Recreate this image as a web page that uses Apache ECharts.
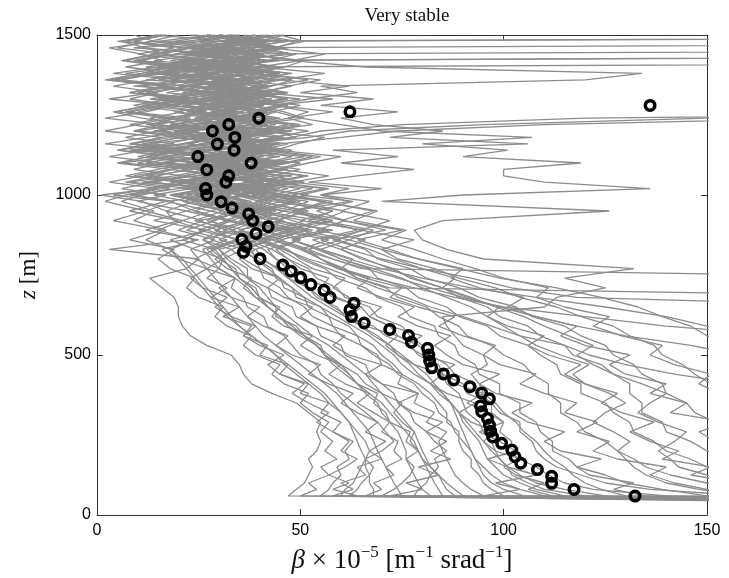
<!DOCTYPE html>
<html><head><meta charset="utf-8">
<script src="https://cdn.jsdelivr.net/npm/echarts@6/dist/echarts.min.js"></script>
<style>html,body{margin:0;padding:0;background:#fff}#c{width:729px;height:578px}</style>
</head><body><div id="c"></div>
<script>
// heights (m) at which each gray profile is sampled
const zLevels = [45,60,80,100,125,150,175,200, 230,260,290,320,350,380,410,440,470,500, 530,560,590,620,650,680,710,740,770,800, 830,860,890,920,950,980, 1000,1020,1040,1060,1080,1100,1120,1140,1160,1180,1200,1220,1240, 1260,1280,1300,1320,1340,1360,1380,1400,1420,1440,1460,1480,1500];

// backscatter profiles (beta x 1e-5), one value per zLevel
const p01 = [170,47,49,51,52,53,52,54, 55,54,55,52,49,43,38,36,35,33, 27,23,21,20,20,19,16,13,22,25, 3,22,26,19,17,11, 1,14,22,9,18,25,12,20,8,16,24,13,19, 7,15,23,10,18,4,14,21,9,17,12,6,15];
const p02 = [190,55,57,58,60,59,62,61, 63,58,60,55,57,50,52,45,47,40, 42,36,38,31,35,28,32,27,30,24, 29,21,27,33,24,18, 26,31,20,28,35,22,29,17,27,33,21,30,24, 32,19,28,36,23,30,16,27,34,22,29,25,31];
const p03 = [150,62,64,65,67,68,66,70, 73,71,69,66,63,60,58,55,54,50, 48,46,42,41,37,36,33,34,30,31, 36,28,32,25,38,30, 22,34,27,40,31,24,37,29,42,26,33,21,38, 28,41,25,35,30,44,27,37,22,33,39,26,35];
const p04 = [200,70,73,75,77,78,76,79, 76,77,72,71,68,69,64,62,60,56, 55,51,49,44,44,40,39,35,34,30, 27,34,29,37,31,24, 30,36,25,32,41,28,35,23,31,38,27,34,20, 29,36,26,43,31,24,38,30,21,35,28,42,33];
const p05 = [210,78,79,81,82,84,83,86, 83,81,78,77,74,73,70,67,66,61, 60,55,54,49,48,43,42,37,37,33, 30,39,33,28,36,26, 33,24,38,29,21,35,27,40,32,19,36,28,43, 24,33,39,27,20,34,45,29,37,23,31,40,27];
const p06 = [230,100,97,95,94,92,92,90, 89,89,86,86,84,82,79,75,73,70, 68,64,62,57,55,49,48,44,43,39, 38,35,41,32,37,29, 35,42,30,26,38,33,45,28,36,31,23,39,34, 42,30,26,37,33,46,28,24,36,41,30,35,27];
const p07 = [180,120,110,106,102,101,99,98, 97,95,94,91,90,89,86,85,83,79, 77,71,68,61,59,54,52,47,45,40, 37,42,35,45,33,38, 30,37,43,27,34,40,31,25,38,44,29,35,41, 33,27,40,36,31,45,26,38,34,29,43,32,37];
const p08 = [240,140,122,115,111,108,104,101, 102,99,100,97,97,94,93,88,86,82, 79,74,72,67,65,59,57,51,49,44, 41,36,44,39,34,42, 37,31,40,46,33,28,39,35,43,30,37,26,34, 40,31,36,28,43,35,39,27,33,46,30,38,24];
const p09 = [260,160,136,125,119,113,110,108, 107,104,104,99,97,91,90,85,84,80, 80,77,75,69,67,61,59,54,52,47, 44,50,40,46,37,43, 34,39,29,36,42,32,27,38,33,45,30,24,36, 31,38,43,29,35,25,40,33,37,28,44,31,26];
const p10 = [270,150,139,130,125,118,116,112, 112,109,108,104,104,99,99,94,93,89, 88,84,83,77,75,69,66,59,56,50, 47,41,52,45,38,49, 42,36,47,31,40,35,28,44,37,32,46,39,30, 37,44,33,29,41,36,48,32,27,39,35,42,30];
const p11 = [280,180,161,150,141,135,132,128, 125,120,118,114,114,111,111,107,105,100, 97,91,89,84,81,74,71,64,61,55, 52,45,56,48,41,50, 44,38,49,35,30,43,36,46,32,40,27,37,45, 35,41,30,47,38,33,26,42,36,31,45,39,34];
const p12 = [300,200,183,170,159,150,146,140, 137,132,131,127,125,119,119,114,113,109, 106,99,96,89,86,79,76,69,67,60, 55,62,50,58,46,52, 40,47,36,43,50,38,33,45,41,35,48,29,39, 44,32,39,27,42,37,34,45,30,40,23,36,41];
const p13 = [320,220,201,190,176,165,158,150, 146,140,139,134,134,131,131,127,124,117, 115,109,106,99,96,89,85,77,73,65, 60,53,64,56,48,58, 46,39,51,42,36,47,33,41,38,44,31,42,35, 39,46,34,28,40,44,31,37,42,26,38,33,45];
const p14 = [350,250,226,210,193,180,173,165, 161,155,152,147,145,140,139,134,132,127, 125,119,115,107,103,94,89,81,77,69, 66,58,71,61,54,63, 50,57,44,52,39,47,55,42,36,49,43,38,51, 46,39,50,35,43,48,37,30,45,40,34,47,38];
const p15 = [400,300,271,250,226,210,206,200, 190,181,172,166,160,154,151,147,144,139, 137,131,127,119,113,104,98,89,83,74, 70,78,65,72,60,67, 55,62,48,57,45,52,60,44,49,56,41,53,47, 52,44,58,40,47,55,38,46,51,36,44,49,40];
const p16 = [450,350,311,280,251,235,226,215, 206,195,189,180,176,171,171,167,165,160, 156,150,146,139,133,124,113,99,89,79, 72,64,75,60,68,55, 48,56,42,51,38,46,53,40,47,35,44,50,37, 43,50,38,46,33,41,47,36,42,49,35,40,46];
const p17 = [500,450,420,400,380,360,350,340, 330,320,310,300,290,280,275,270,265,260, 255,250,245,240,235,230,225,220,65,58, 52,60,46,55,40,48, 36,44,30,39,46,33,27,41,35,29,43,31,38, 28,35,42,30,37,24,33,40,27,36,31,25,34];
const p18 = [480,430,400,380,360,345,335,325, 315,305,298,290,282,275,268,262,256,250, 245,240,235,230,225,220,72,64,60,55, 50,57,44,51,38,45, 40,33,45,28,37,43,31,26,39,34,42,29,36, 32,40,27,35,43,30,38,23,34,41,28,37,33];
const p19 = [460,420,390,370,350,335,320,310, 300,290,280,272,265,258,250,245,240,235, 228,220,212,205,200,118,102,92,80,70, 62,55,66,50,58,45, 52,41,48,37,44,50,35,42,31,46,38,33,44, 37,45,31,40,48,35,29,42,38,33,46,30,39];
const p20 = [260,130,124,120,117,115,112,110, 108,105,103,100,98,95,94,92,96,95, 90,88,86,85,110,113,125,115,132,95, 86,80,78,85,126,70, 90,136,110,100,100,119,90,101,80,107,70,60,50, 44,38,47,35,42,52,39,45,33,48,41,36,44];
const p21 = [210,95,92,90,88,87,86,85, 84,86,81,83,78,79,74,75,70,69, 65,64,58,57,52,51,46,45,40,39, 35,42,31,38,28,36, 30,38,26,34,41,29,36,44,32,48,55,75,120, 260,400,420,430,440,450,460,470,480,490,500,510,520];
const p22 = [230,110,104,100,97,95,93,92, 90,88,87,84,83,80,78,74,72,68, 65,60,58,53,51,47,45,41,40,36, 33,40,29,37,44,32, 27,35,41,30,38,25,33,40,36,52,62,95,150, 300,420,430,440,450,460,470,480,490,500,510,520,530];
const p23 = [190,85,84,83,82,81,80,79, 78,76,74,72,70,67,64,61,58,56, 54,51,48,45,42,40,38,35,33,31, 28,35,25,32,22,30, 24,31,19,27,34,22,29,37,45,60,74,110,180, 350,400,410,420,430,440,450,460,470,480,490,500,510];
const p24 = [220,88,86,85,84,82,81,80, 79,78,76,74,72,70,68,66,63,60, 57,53,50,47,44,42,40,37,35,32, 30,26,34,24,31,21, 28,35,23,31,18,27,33,25,30,21,36,26,32, 23,29,35,21,28,33,25,30,400,410,420,430,440];
const p25 = [250,105,100,97,95,94,93,92, 91,90,89,88,87,85,82,78,75,73, 70,67,63,59,55,51,48,45,42,39, 36,43,33,40,30,37, 32,26,38,29,35,41,27,34,22,31,38,28,35, 30,37,25,33,40,28,36,24,31,39,27,400,450];
const p26 = [190,75,74,73,72,71,70,69, 68,67,65,63,61,59,56,53,50,47, 44,41,39,37,35,33,31,29,27,25, 23,29,20,26,17,24, 19,26,14,22,29,17,25,11,21,28,16,24,30, 20,27,13,23,31,18,26,15,22,350,400,420,440];
const p27 = [170,68,68,67,67,66,66,65, 64,63,62,60,58,56,53,50,47,44, 41,38,35,33,31,29,27,25,23,21, 18,24,15,21,12,19, 8,16,23,12,19,26,14,21,9,18,25,13,20, 27,15,22,10,19,26,14,21,28,16,23,30,400];
const p28 = [240,125,115,108,104,101,99,97, 95,93,91,89,87,85,83,81,78,75, 72,69,65,61,57,53,50,47,44,41, 39,46,35,43,32,40, 34,41,29,37,45,33,40,48,36,43,52,39,47, 58,44,52,64,55,120,134,66,48,56,43,51,45];
const p29 = [180,60,61,63,64,65,66,67, 66,64,62,60,57,55,52,49,46,44, 41,38,35,32,30,28,26,24,22,20, 18,12,17,9,14,6, 11,18,7,15,22,10,17,5,13,20,9,16,2, 12,19,8,15,4,13,20,7,16,11,3,14,9];
const p30 = [260,160,148,140,135,132,130,128, 131,127,122,125,130,126,120,117,121,114, 108,104,100,96,92,86,80,75,68,60, 54,48,57,44,51,40, 47,36,43,31,39,45,34,28,41,37,30,44,35, 41,33,46,38,29,36,43,31,39,26,35,42,32];
const p31 = [300,190,170,160,150,143,141,138, 142,145,138,133,136,140,134,127,122,118, 122,116,110,105,98,92,85,78,72,66, 60,66,54,61,49,56, 43,50,38,46,33,41,48,36,44,29,39,47,34, 40,47,35,42,28,39,45,33,41,37,30,43,36];
const p32 = [220,90,88,86,84,82,80,79, 77,78,75,73,75,70,66,64,60,57, 54,50,47,45,42,39,37,34,30,28, 26,32,22,29,35,25, 18,27,33,21,30,16,26,34,23,29,19,28,35, 25,31,18,28,35,22,30,17,27,33,21,29,24];
const p33 = [500,450,420,400,380,360,340,330, 320,310,300,290,280,270,260,250,240,230, 210,170,140,120,100,88,78,68,60,52, 46,40,48,35,43,30, 37,23,32,40,26,34,20,29,38,24,33,18,28, 36,22,31,17,27,35,21,30,14,26,34,19,29];
const p34 = [400,380,360,340,320,300,290,280, 270,260,250,240,230,220,210,200,190,180, 170,160,150,140,125,108,92,80,70,62, 55,48,58,44,52,39, 45,32,41,27,36,44,30,39,25,34,42,28,37, 31,40,26,35,21,33,41,28,36,24,32,39,27];
const p35 = [200,82,80,79,78,77,76,76, 75,74,72,70,69,66,64,62,59,56, 54,51,47,45,42,40,38,35,33,31, 29,35,27,33,24,31, 26,33,21,29,37,24,31,18,28,35,22,30,25, 34,21,29,37,24,32,19,28,36,23,400,420,440];
const p36 = [230,115,108,104,100,98,96,95, 94,92,90,89,87,84,82,79,77,74, 72,68,65,62,58,55,52,49,47,44, 42,50,45,58,48,62, 55,70,52,64,78,60,74,58,106,72,85,68,60, 74,55,68,50,62,45,56,40,50,36,47,33,42];
const p37 = [200,58,63,60,66,64,70,67, 71,66,69,64,60,63,57,52,55,48, 44,47,41,37,40,33,30,34,27,31, 24,18,27,14,22,10, 17,6,14,21,9,16,3,12,19,7,15,22,11, 4,13,20,8,16,2,11,18,6,14,21,9,17];
const p38 = [230,72,80,76,84,79,87,82, 86,81,85,78,74,79,70,66,70,62, 58,61,54,50,53,46,42,45,38,35, 39,30,36,27,33,22, 14,23,8,19,27,12,21,5,17,25,10,20,13, 21,9,18,26,11,20,4,15,23,10,19,7,16];
const p39 = [260,95,104,98,108,101,96,103, 99,94,100,96,91,95,88,84,88,80, 76,80,72,67,70,62,58,61,53,49, 45,39,47,33,41,28, 20,31,12,24,33,16,27,9,22,30,14,25,18, 26,11,22,30,15,24,7,19,28,13,23,5,17];
const p40 = [330,230,200,185,170,176,160,165, 152,148,155,141,145,136,140,130,126,131, 120,114,118,108,101,105,94,87,90,79, 70,62,68,55,61,47, 38,45,30,41,24,36,44,28,39,20,33,42,26, 35,18,30,40,23,34,12,27,37,21,31,15,28];
const p41 = [380,280,240,215,200,190,184,176, 170,163,166,158,161,153,148,151,142,136, 139,129,122,126,115,108,111,100,93,85, 78,70,76,63,69,55, 46,53,37,48,29,42,51,34,45,26,40,49,31, 42,27,38,47,22,36,44,19,33,41,25,37,30];
const p42 = [290,170,150,142,136,140,128,122, 126,118,123,115,118,110,104,108,99,95, 98,90,84,88,79,72,75,66,60,63, 55,48,53,42,49,36, 29,38,22,33,41,17,28,36,13,26,34,19,30, 23,32,16,27,35,12,25,31,18,29,9,22,33];
const p43 = [180,64,58,62,57,61,64,60, 62,58,54,57,52,48,51,45,42,46, 40,36,39,33,29,32,26,23,27,20, 16,25,12,20,8,17, 4,13,20,7,15,24,10,18,2,12,21,8,16, 10,19,3,14,22,6,15,24,11,18,5,13,20];
const p44 = [480,420,400,380,360,340,330,320, 300,280,260,240,225,210,195,180,168,158, 146,130,118,108,99,90,82,74,66,58, 50,43,52,38,46,33, 24,36,18,30,40,22,33,14,27,38,20,31,25, 34,17,29,39,21,32,13,26,36,19,30,38,23];
const p45 = [500,460,430,400,370,340,320,300, 280,260,240,220,200,178,158,142,130,121, 115,104,97,90,82,76,69,63,57,51, 46,40,49,35,43,29, 36,21,31,42,25,35,16,28,39,23,33,12,27, 19,30,40,24,34,15,28,37,20,31,11,26,35];
const p46 = [210,66,70,68,73,71,75,73, 74,70,72,68,64,67,61,57,60,54, 50,53,46,43,45,39,36,38,32,29, 33,26,30,21,28,17, 9,20,27,13,24,6,18,26,11,21,29,15,23, 8,17,25,12,22,4,16,24,10,19,27,13,400];
const p47 = [250,112,106,110,103,100,104,98, 95,98,92,89,93,86,82,85,78,74, 71,74,66,62,65,58,55,57,50,47, 43,37,45,31,40,27, 18,29,11,25,34,15,28,8,21,31,14,26,35, 22,30,15,27,36,19,29,12,24,380,420,440,460];
const p48 = [270,135,127,132,121,118,124,114, 110,115,106,102,107,98,94,99,90,86, 83,87,79,74,78,70,64,67,59,55, 51,44,50,39,46,34, 27,37,19,31,40,23,35,12,28,38,21,32,16, 29,38,20,33,9,26,36,17,30,40,22,34,14];
const p49 = [310,210,178,158,146,151,139,143, 136,131,137,129,124,128,120,115,119,111, 106,110,101,96,99,91,85,88,80,73, 67,59,65,52,58,44, 35,44,26,38,47,30,41,20,34,45,27,39,32, 41,25,36,46,28,39,17,32,43,24,37,46,30];
const p50 = [160,50,54,52,57,55,59,56, 58,55,57,53,50,52,46,43,45,39, 36,38,32,29,31,25,22,24,18,15, 19,8,16,4,12,2, 7,15,3,11,18,5,13,21,8,16,2,10,18, 5,13,21,8,17,3,11,19,7,15,23,9,16];

// black circles (profile statistic)
const circleBeta = [132.3,117.3,111.8,111.8,108.3,104.2,102.8,102,99.5,97.3,96.8,96.5,96,94.6,94.3,96.5,94.6,91.7,87.7,85.2,82.3,81.8,81.6,81.3,77.3,76.6,72,65.7,62.6,62.2,63.2,57.3,55.8,52.6,50.1,47.7,45.7,40.1,36,36.6,35.6,39.1,42.1,38.3,37.3,33.2,30.5,27,26.7,31.7,32.4,27,37.9,24.8,33.7,29.6,33.9,28.4,32.4,39.8,62.2,136];
const circleZ = [59,80,99,121,142,162,182,203,224,244,262,281,302,323,341,363,381,401,422,441,460,481,500,521,540,561,580,600,620,641,662,680,702,720,742,762,781,801,821,840,861,880,901,920,941,959,979,1000,1020,1040,1060,1079,1100,1120,1140,1159,1180,1200,1220,1240,1260,1280];

const xTicks = [0, 50, 100, 150];
const yTicks = [0, 500, 1000, 1500];

const profiles = [p01,p02,p03,p04,p05,p06,p07,p08,p09,p10,p11,p12,p13,p14,p15,p16,p17,p18,p19,p20,p21,p22,p23,p24,p25,p26,p27,p28,p29,p30,p31,p32,p33,p34,p35,p36,p37,p38,p39,p40,p41,p42,p43,p44,p45,p46,p47,p48,p49,p50];

const series = profiles.map(p => ({
  type: 'line',
  data: zLevels.map((z, i) => [p[i], z]),
  symbol: 'none', showSymbol: false, silent: true, clip: true,
  lineStyle: { color: '#8c8c8c', width: 1.3 },
  z: 1
}));
series.push({
  type: 'scatter',
  data: circleBeta.map((b, i) => [b, circleZ[i]]),
  symbol: 'circle', symbolSize: 9.5,
  itemStyle: { color: 'rgba(0,0,0,0)', borderColor: '#000', borderWidth: 3.5, opacity: 1 },
  z: 5
});

const axisCol = '#333';
const baseX = {
  type: 'value', min: xTicks[0], max: xTicks[xTicks.length-1], interval: 50,
  axisLine: { show: true, onZero: false, lineStyle: { color: axisCol, width: 1 } },
  axisTick: { show: true, inside: true, length: 6, lineStyle: { color: axisCol } },
  splitLine: { show: false }
};
const baseY = {
  type: 'value', min: yTicks[0], max: yTicks[yTicks.length-1], interval: 500,
  axisLine: { show: true, onZero: false, lineStyle: { color: axisCol, width: 1 } },
  axisTick: { show: true, inside: true, length: 6, lineStyle: { color: axisCol } },
  splitLine: { show: false }
};

const chart = echarts.init(document.getElementById('c'), null, { renderer: 'canvas' });
chart.setOption({
  animation: false,
  backgroundColor: '#fff',
  title: {
    text: 'Very stable', left: 402, top: 2, textAlign: 'center',
    textStyle: { fontFamily: 'Liberation Serif', fontSize: 19, fontWeight: 'normal', color: '#111' }
  },
  grid: { left: 97, right: 22, top: 35, bottom: 63, containLabel: false, outerBoundsMode: 'none' },
  xAxis: [
    Object.assign({}, baseX, {
      position: 'bottom',
      axisLabel: { color: '#000', fontFamily: 'Liberation Sans', fontSize: 16, margin: 8, formatter: v => String(v) },
      name: '{i|β} × 10{s|−5} [m{s|−1} srad{s|−1}]',
      nameLocation: 'middle', nameGap: 17,
      nameTextStyle: {
        fontFamily: 'Liberation Serif', fontSize: 27, color: '#111', lineHeight: 34,
        rich: {
          i: { fontFamily: 'Liberation Serif', fontStyle: 'italic', fontSize: 27, lineHeight: 34, color: '#111' },
          s: { fontFamily: 'Liberation Serif', fontSize: 17, lineHeight: 16, verticalAlign: 'top', color: '#111' }
        }
      }
    }),
    Object.assign({}, baseX, { position: 'top', axisLabel: { show: false } })
  ],
  yAxis: [
    Object.assign({}, baseY, {
      position: 'left',
      axisLabel: { color: '#000', fontFamily: 'Liberation Sans', fontSize: 16, margin: 6, formatter: v => String(v) },
      name: '{i|z} [m]', nameLocation: 'middle', nameGap: 57, nameRotate: 90,
      nameTextStyle: {
        fontFamily: 'Liberation Serif', fontSize: 23, color: '#111',
        rich: { i: { fontFamily: 'Liberation Serif', fontStyle: 'italic', fontSize: 23, color: '#111' } }
      }
    }),
    Object.assign({}, baseY, { position: 'right', axisLabel: { show: false } })
  ],
  series: series
});
</script>
</body></html>
